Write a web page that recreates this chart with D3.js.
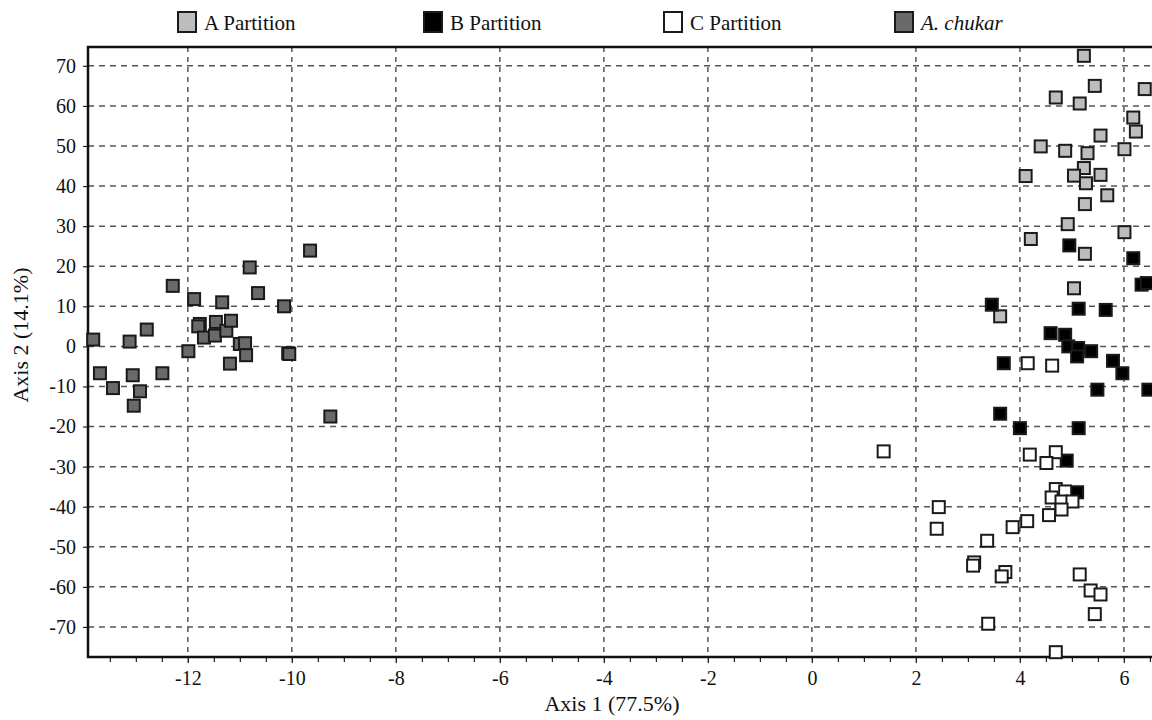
<!DOCTYPE html>
<html>
<head>
<meta charset="utf-8">
<script src="https://cdn.jsdelivr.net/npm/d3@7"></script>
<style>
  body { margin: 0; background: #fff; }
  text { font-family: "Liberation Serif", "DejaVu Serif", serif; fill: #111; }
</style>
</head>
<body>
<script>
const width = 1152;
const height = 720;

// [axis1, axis2] coordinates per group
const chukarPts = [
  [-13.82, 1.7], [-13.69, -6.7], [-13.44, -10.4], [-13.12, 1.2], [-13.06, -7.2],
  [-13.04, -14.8], [-12.92, -11.2], [-12.79, 4.2], [-12.49, -6.7], [-12.29, 15.1],
  [-11.99, -1.2], [-11.88, 11.8], [-11.77, 5.6], [-11.8, 5.0], [-11.69, 2.2],
  [-11.48, 2.7], [-11.46, 6.1], [-11.34, 11.0], [-11.26, 3.9], [-11.17, 6.4],
  [-11.19, -4.3], [-11.0, 0.6], [-10.9, 0.8], [-10.88, -2.2], [-10.81, 19.7],
  [-10.65, 13.3], [-10.15, 10.0], [-10.07, -1.7], [-10.05, -1.9], [-9.65, 23.9],
  [-9.26, -17.5]
];
const aPts = [
  [5.23, 72.5], [5.44, 65.0], [6.40, 64.2], [4.69, 62.1], [5.15, 60.6],
  [6.18, 57.1], [6.23, 53.6], [5.55, 52.6], [4.40, 49.9], [4.87, 48.8],
  [5.30, 48.2], [6.01, 49.2], [5.23, 44.5], [4.11, 42.5], [5.04, 42.6],
  [5.55, 42.8], [5.27, 40.7], [5.68, 37.7], [5.25, 35.5], [4.92, 30.5],
  [6.01, 28.5], [4.21, 26.8], [5.25, 23.1], [5.04, 14.5], [3.62, 7.5]
];
const bPts = [
  [4.95, 25.2], [6.18, 22.0], [6.34, 15.4], [6.44, 15.8], [3.46, 10.4],
  [5.13, 9.4], [5.65, 9.1], [4.59, 3.3], [4.87, 2.9], [4.93, 0.0],
  [5.12, -0.4], [5.37, -1.2], [5.10, -2.5], [3.69, -4.2], [5.79, -3.6],
  [5.97, -6.7], [5.49, -10.8], [6.47, -10.8], [3.62, -16.8], [4.0, -20.4],
  [5.13, -20.4], [4.90, -28.5], [5.10, -36.4]
];
const cPts = [
  [4.15, -4.2], [4.62, -4.8], [1.38, -26.2], [4.19, -27.0], [4.69, -26.4],
  [4.51, -29.1], [4.69, -35.6], [4.87, -36.2], [4.61, -37.7], [4.80, -38.7],
  [5.01, -38.7], [4.80, -40.7], [4.56, -42.1], [2.44, -40.1], [2.40, -45.5],
  [3.86, -45.1], [4.14, -43.6], [3.37, -48.5], [3.12, -53.9], [3.10, -54.7],
  [3.72, -56.3], [3.65, -57.4], [5.15, -56.9], [5.36, -60.9], [5.55, -61.9],
  [5.44, -66.8], [3.39, -69.2], [4.69, -76.3]
];

const groupNames = ['A Partition', 'B Partition', 'C Partition', 'A. chukar'];
const groupColors = ['#bdbdbd', '#000000', '#ffffff', '#6a6a6a'];
const xTicks = [-12, -10, -8, -6, -4, -2, 0, 2, 4, 6];
const yTicks = [70, 60, 50, 40, 30, 20, 10, 0, -10, -20, -30, -40, -50, -60, -70];

const plotL = 88, plotT = 47, plotB = 657, plotR = 1152;

const x = d3.scaleLinear().domain([-13.92, 6.54]).range([plotL, plotR]);
const y = d3.scaleLinear().domain([-77.5, 74.7]).range([plotB, plotT]);

const svg = d3.select('body').append('svg')
    .attr('width', width)
    .attr('height', height);

// grid
svg.append('g').selectAll('line')
    .data(xTicks)
    .enter().append('line')
    .attr('x1', d => x(d)).attr('x2', d => x(d))
    .attr('y1', plotT).attr('y2', plotB)
    .attr('stroke', '#555').attr('stroke-width', 1.5)
    .attr('stroke-dasharray', '5,5');

svg.append('g').selectAll('line')
    .data(yTicks)
    .enter().append('line')
    .attr('x1', plotL).attr('x2', plotR)
    .attr('y1', d => y(d)).attr('y2', d => y(d))
    .attr('stroke', '#555').attr('stroke-width', 1.5)
    .attr('stroke-dasharray', '6,5');

// x axis with minor ticks
const minor = d3.range(-13.5, 6.6, 0.5);
svg.append('g')
    .attr('transform', `translate(0,${plotB})`)
    .call(d3.axisBottom(x).tickValues(minor).tickSize(5).tickFormat(''))
    .call(g => g.select('.domain').remove())
    .call(g => g.selectAll('line').attr('stroke', '#222').attr('stroke-width', 1.2));

svg.append('g')
    .attr('transform', `translate(0,${plotB})`)
    .call(d3.axisBottom(x).tickValues(xTicks).tickSize(6).tickPadding(8).tickFormat(d => String(d)))
    .call(g => g.select('.domain').remove())
    .call(g => g.selectAll('line').attr('stroke', '#222').attr('stroke-width', 1.2))
    .call(g => g.selectAll('text').attr('font-size', 20).attr('font-family', 'Liberation Serif').attr('fill', '#1a1a1a'));

svg.append('g')
    .attr('transform', `translate(${plotL},0)`)
    .call(d3.axisLeft(y).tickValues(yTicks).tickSize(5).tickPadding(7).tickFormat(d => String(d)))
    .call(g => g.select('.domain').remove())
    .call(g => g.selectAll('line').attr('stroke', '#222').attr('stroke-width', 1.2))
    .call(g => g.selectAll('text').attr('font-size', 20).attr('font-family', 'Liberation Serif').attr('fill', '#1a1a1a'));

// frame
svg.append('path')
    .attr('d', `M${plotR + 2},${plotT}H${plotL}V${plotB}H${plotR + 2}`)
    .attr('fill', 'none').attr('stroke', '#111').attr('stroke-width', 2.5);

// points
const groups = [aPts, bPts, cPts, chukarPts];
const s = 12;
groups.forEach((pts, gi) => {
  svg.append('g').selectAll('rect')
      .data(pts)
      .enter().append('rect')
      .attr('x', d => x(d[0]) - s / 2)
      .attr('y', d => y(d[1]) - s / 2)
      .attr('width', s).attr('height', s)
      .attr('fill', groupColors[gi])
      .attr('stroke', '#1a1a1a')
      .attr('stroke-width', 2);
});

// legend
const legendX = [178, 424, 664, 895];
const lg = svg.append('g').selectAll('g')
    .data(groupNames)
    .enter().append('g')
    .attr('transform', (d, i) => `translate(${legendX[i]},12)`);
lg.append('rect')
    .attr('width', 18).attr('height', 20)
    .attr('fill', (d, i) => groupColors[i])
    .attr('stroke', '#1a1a1a').attr('stroke-width', 2);
lg.append('text')
    .attr('x', 26).attr('y', 18)
    .attr('font-size', 21)
    .attr('font-style', (d, i) => i === 3 ? 'italic' : 'normal')
    .text(d => d);

// axis titles
svg.append('text')
    .attr('x', 612).attr('y', 711)
    .attr('text-anchor', 'middle')
    .attr('font-size', 22)
    .text('Axis 1 (77.5%)');

svg.append('text')
    .attr('transform', 'translate(28,335) rotate(-90)')
    .attr('text-anchor', 'middle')
    .attr('font-size', 22)
    .text('Axis 2 (14.1%)');
</script>
</body>
</html>
